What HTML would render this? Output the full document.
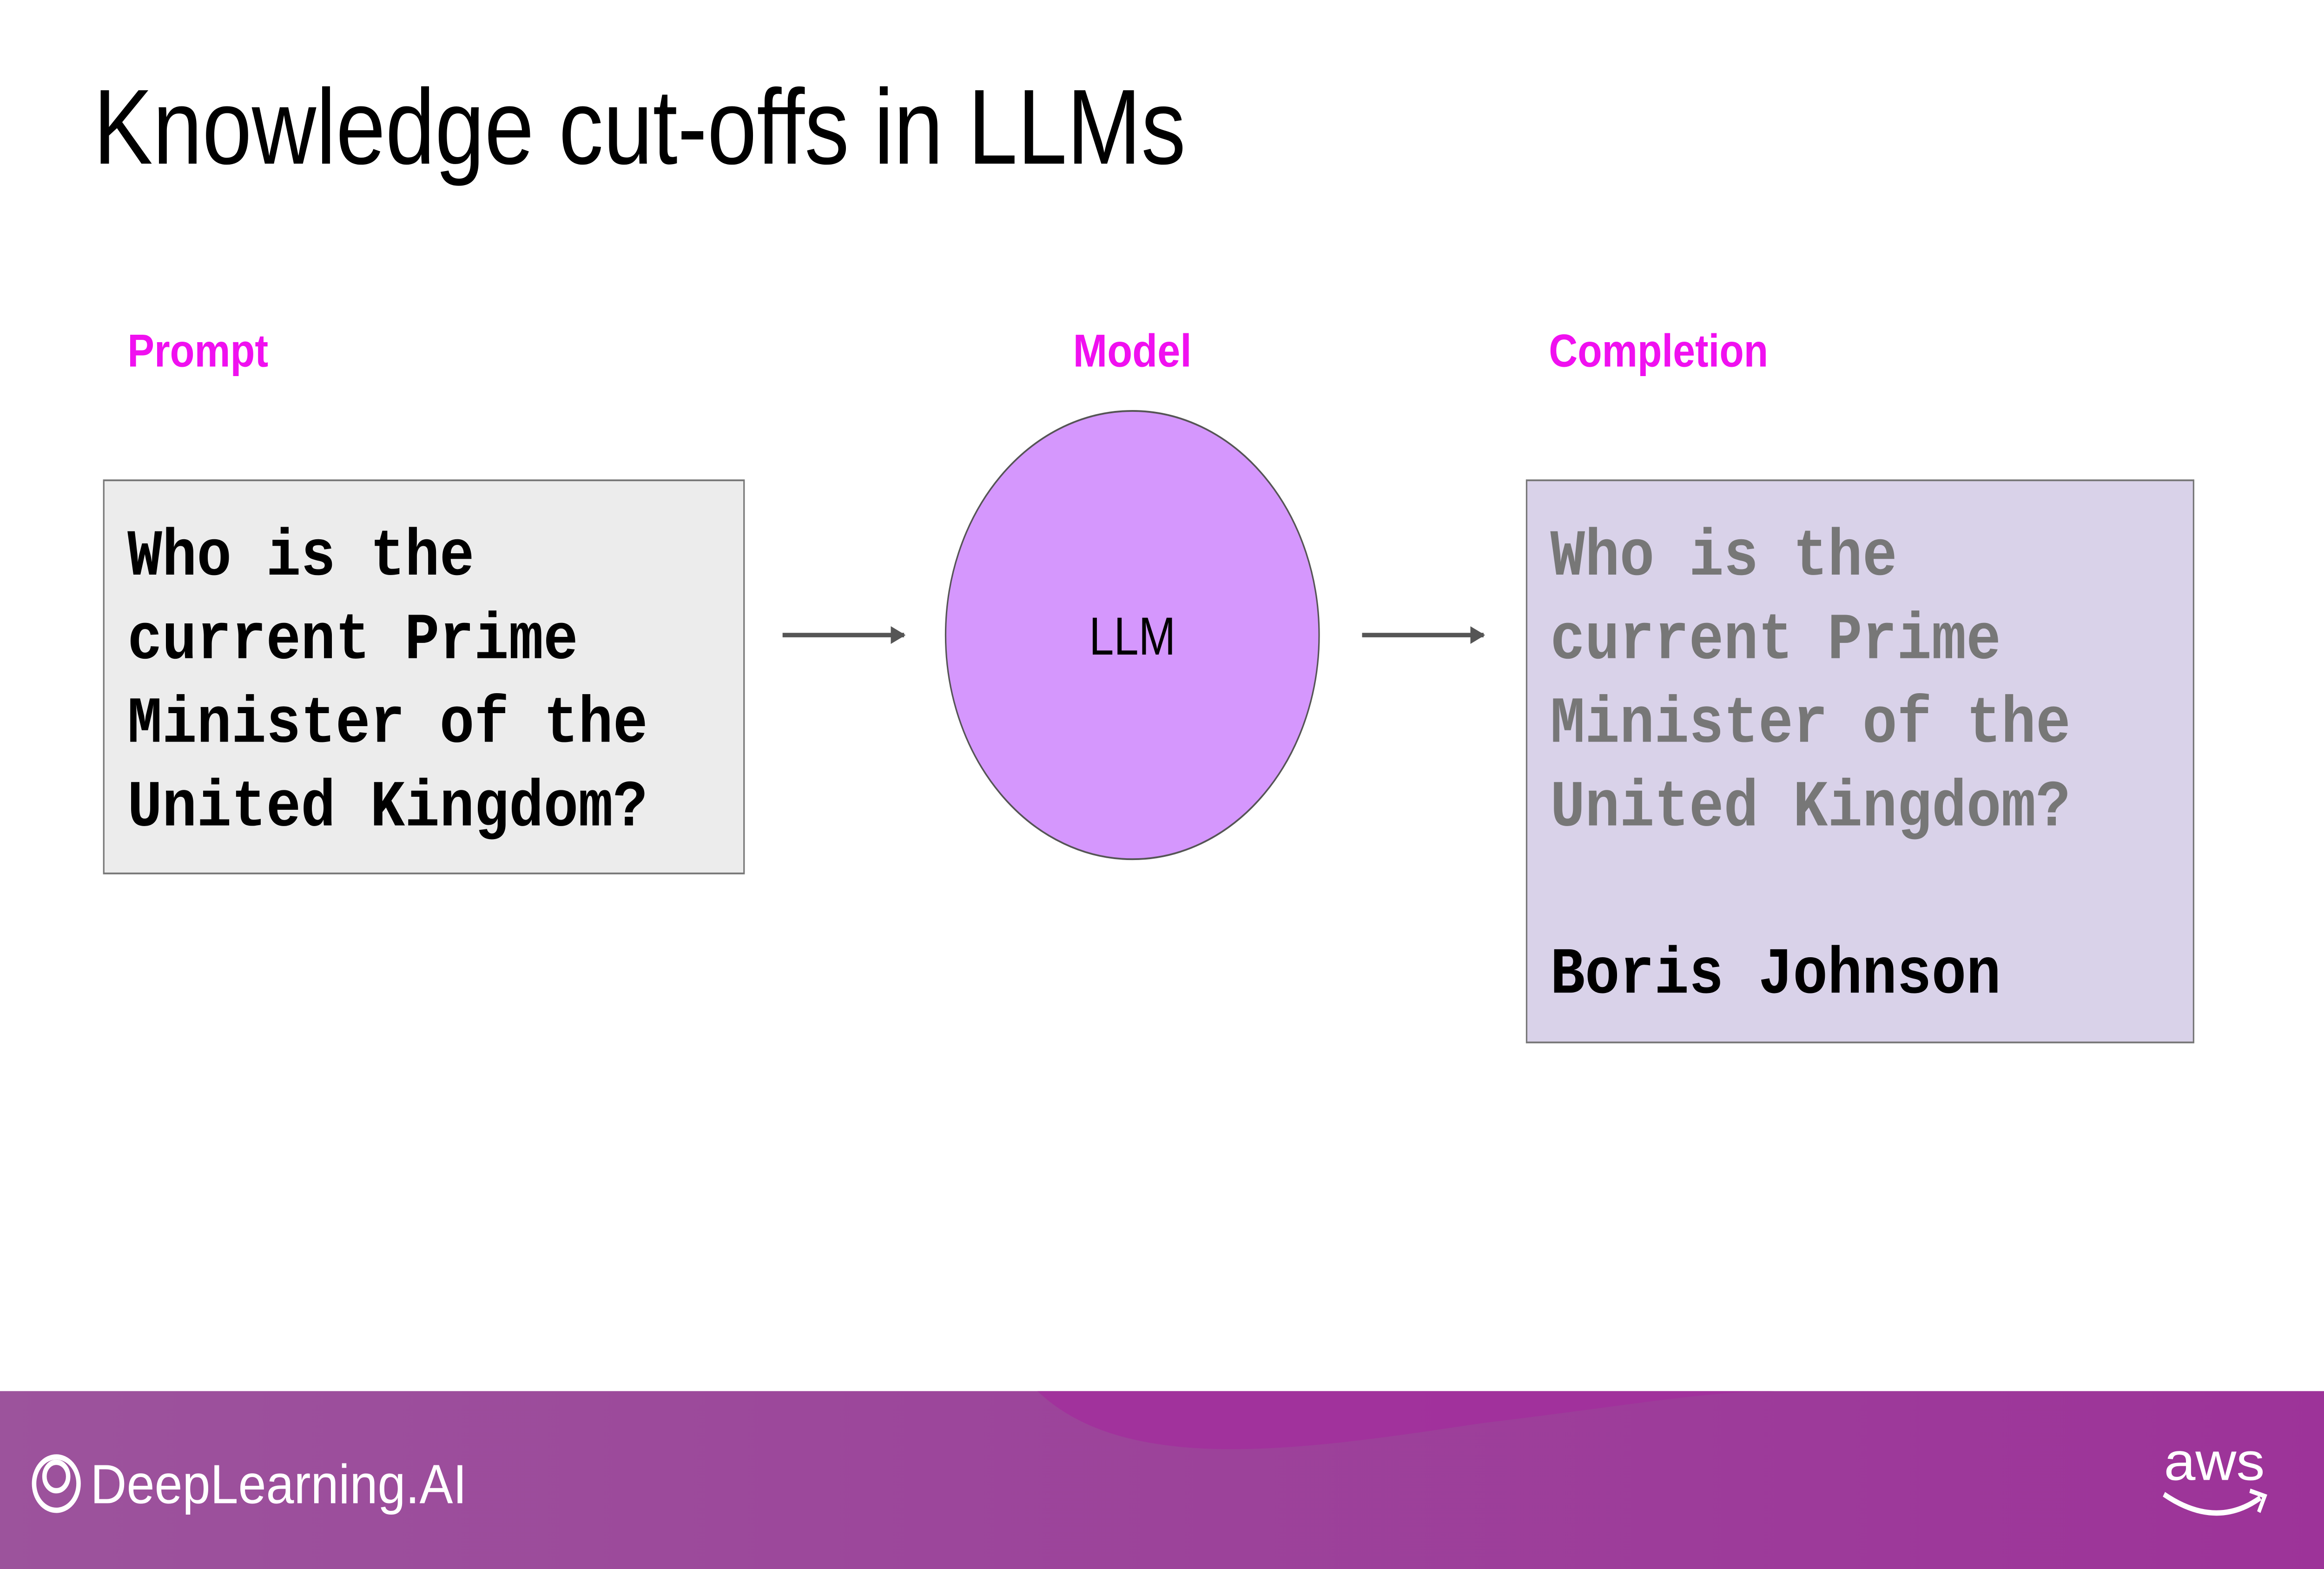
<!DOCTYPE html>
<html><head><meta charset="utf-8"><style>html,body{margin:0;padding:0;background:#fff;overflow:hidden;width:100vw;height:100vh}svg{display:block;width:100vw;height:100vh}</style></head>
<body>
<svg viewBox="0 0 1568 882" preserveAspectRatio="none" xmlns="http://www.w3.org/2000/svg">
<defs>
<linearGradient id="fg" x1="0" x2="1" y1="0" y2="0"><stop offset="0" stop-color="#9c539c"/><stop offset="1" stop-color="#9d3399"/></linearGradient>
<marker id="ah" markerWidth="10" markerHeight="10" refX="9" refY="5" orient="auto" markerUnits="userSpaceOnUse"><path d="M0,0 L10,5 L0,10 Z" fill="#555"/></marker>
</defs>
<rect width="1568" height="882" fill="#fff"/>
<text x="63" y="92" font-family="Liberation Sans, sans-serif" font-size="60" fill="#000" textLength="737" lengthAdjust="spacingAndGlyphs">Knowledge cut-offs in LLMs</text>
<g font-family="Liberation Sans, sans-serif" font-size="26" font-weight="bold" fill="#f010f0">
<text x="86" y="206" textLength="95" lengthAdjust="spacingAndGlyphs">Prompt</text>
<text x="724" y="206" textLength="80" lengthAdjust="spacingAndGlyphs">Model</text>
<text x="1045" y="206" textLength="148" lengthAdjust="spacingAndGlyphs">Completion</text>
</g>
<rect x="70" y="270" width="432" height="221" fill="#ececec" stroke="#777" stroke-width="1"/>
<g font-family="Liberation Mono, monospace" font-size="37" font-weight="bold" fill="#000">
<text x="86" y="323" textLength="234" lengthAdjust="spacingAndGlyphs">Who is the</text>
<text x="86" y="370" textLength="304" lengthAdjust="spacingAndGlyphs">current Prime</text>
<text x="86" y="417" textLength="351" lengthAdjust="spacingAndGlyphs">Minister of the</text>
<text x="86" y="464" textLength="351" lengthAdjust="spacingAndGlyphs">United Kingdom?</text>
</g>
<line x1="528" y1="357" x2="610" y2="357" stroke="#555" stroke-width="2.5" marker-end="url(#ah)"/>
<line x1="919" y1="357" x2="1001" y2="357" stroke="#555" stroke-width="2.5" marker-end="url(#ah)"/>
<circle cx="764" cy="357" r="126" fill="#d597fd" stroke="#555" stroke-width="1"/>
<text x="764" y="368" text-anchor="middle" font-family="Liberation Sans, sans-serif" font-size="30" fill="#000">LLM</text>
<rect x="1030" y="270" width="450" height="316" fill="#d9d2e9" stroke="#777" stroke-width="1"/>
<g font-family="Liberation Mono, monospace" font-size="37" font-weight="bold" fill="#777">
<text x="1046" y="323" textLength="234" lengthAdjust="spacingAndGlyphs">Who is the</text>
<text x="1046" y="370" textLength="304" lengthAdjust="spacingAndGlyphs">current Prime</text>
<text x="1046" y="417" textLength="351" lengthAdjust="spacingAndGlyphs">Minister of the</text>
<text x="1046" y="464" textLength="351" lengthAdjust="spacingAndGlyphs">United Kingdom?</text>
</g>
<text x="1046" y="558" font-family="Liberation Mono, monospace" font-size="37" font-weight="bold" fill="#000" textLength="304" lengthAdjust="spacingAndGlyphs">Boris Johnson</text>
<rect x="0" y="782" width="1568" height="100" fill="url(#fg)"/>
<path d="M700,782 C760,830 880,815 1000,800 C1100,790 1150,782 1200,782 Z" fill="#a22e9c" opacity="0.8"/>
<g fill="none" stroke="#fff" stroke-width="3">
<circle cx="38" cy="834" r="15"/><circle cx="38" cy="830" r="8"/>
</g>
<text x="61" y="845" font-family="Liberation Sans, sans-serif" font-size="31" fill="#fff" textLength="254" lengthAdjust="spacingAndGlyphs">DeepLearning.AI</text>
<text x="1460" y="832" font-family="Liberation Sans, sans-serif" font-size="30" fill="#fff" textLength="68" lengthAdjust="spacingAndGlyphs">aws</text>
<path d="M1460,840 Q1495,860 1525,842" fill="none" stroke="#fff" stroke-width="3"/>
<path d="M1518,838 L1528,841 L1524,850" fill="none" stroke="#fff" stroke-width="2.5"/>
</svg>
</body></html>
